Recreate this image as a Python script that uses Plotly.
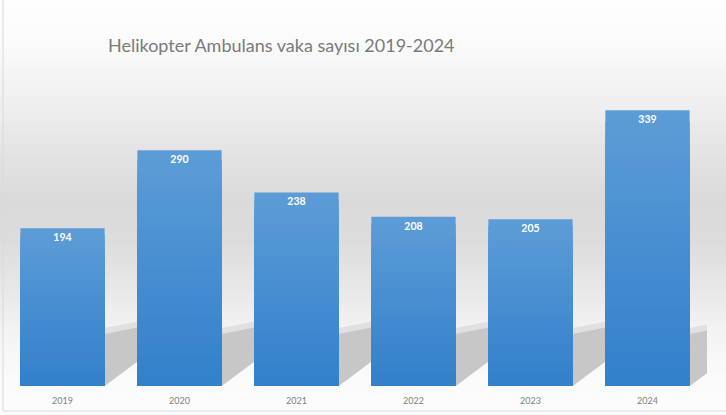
import plotly.graph_objects as go

years = ["2019", "2020", "2021", "2022", "2023", "2024"]
cases = [194, 290, 238, 208, 205, 339]

W, H = 726, 415
L, R, T, B = 4, 20, 81, 29
plot_w = W - L - R
plot_h = H - T - B
slot = plot_w / len(years)
half_bar = 0.36 * slot


def xp(px):
    return (px - L) / plot_w


def yp(py):
    return (H - B - py) / plot_h


def mix(c1, c2, t):
    return "rgb(%d,%d,%d)" % tuple(round(a + (b - a) * t) for a, b in zip(c1, c2))


fig = go.Figure()

# gradient bars: stacked overlays, light at the top, darker at the bottom
top_col = (92, 156, 214)
bot_col = (49, 127, 203)
n_layers = 24
for k in range(n_layers):
    frac = 1 - k / n_layers
    fig.add_trace(go.Bar(
        x=years,
        y=[v * frac for v in cases],
        marker=dict(color=mix(bot_col, top_col, frac), line=dict(width=0)),
        hoverinfo="skip",
        showlegend=False,
    ))

# value labels on a transparent bar drawn last
fig.add_trace(go.Bar(
    x=years,
    y=cases,
    marker=dict(color="rgba(0,0,0,0)", line=dict(width=0)),
    text=[str(v) for v in cases],
    textposition="inside",
    insidetextanchor="end",
    textfont=dict(family="Lato", size=10.5, color="white", weight="bold"),
    hoverinfo="skip",
    showlegend=False,
))

# background: vertical grey gradient
stops = [(0, 254), (40, 251), (100, 240), (150, 228), (200, 218), (240, 220),
         (290, 232), (325, 242), (360, 248), (386, 251), (415, 252)]
shapes = []
step = 3
for py in range(0, H, step):
    for (y0, g0), (y1, g1) in zip(stops, stops[1:]):
        if y0 <= py + step / 2 <= y1:
            g = g0 + (g1 - g0) * (py + step / 2 - y0) / (y1 - y0)
            break
    g = round(g)
    shapes.append(dict(type="rect", xref="paper", yref="paper", layer="below",
                       x0=xp(0), x1=xp(W), y0=yp(py + step), y1=yp(py),
                       fillcolor="rgb(%d,%d,%d)" % (g, g, g), line=dict(width=0)))

# floor shadows to the right of each bar
for i in range(len(years)):
    right = L + (i + 0.5) * slot + half_bar
    far = min(right + slot - 2 * half_bar, L + plot_w + 1)
    w = far - right
    for top, col in [(328, "rgb(224,224,224)"), (334, "rgb(199,199,199)")]:
        pts = [(right, top), (far, top - 0.2 * w), (far, 386 - 0.75 * w), (right, 386)]
        path = "M " + " L ".join("%f,%f" % (xp(a), yp(b)) for a, b in pts) + " Z"
        shapes.append(dict(type="path", xref="paper", yref="paper", layer="below",
                           path=path, fillcolor=col, line=dict(width=0)))

# chart frame
shapes.append(dict(type="rect", xref="paper", yref="paper",
                   x0=xp(3), x1=xp(W + 5), y0=yp(411), y1=yp(-5),
                   line=dict(color="#d9d9d9", width=1)))

fig.update_layout(
    width=W, height=H,
    margin=dict(l=L, r=R, t=T, b=B),
    barmode="overlay",
    bargap=0.28,
    paper_bgcolor="white",
    plot_bgcolor="rgba(0,0,0,0)",
    shapes=shapes,
    title=dict(text="Helikopter Ambulans vaka sayısı 2019-2024",
               x=xp(108), xref="paper", xanchor="left",
               y=1 - 46 / H, yanchor="middle",
               font=dict(family="Lato", size=18, color="#7a7a7a")),
    xaxis=dict(showgrid=False, showline=False, ticks="", zeroline=False,
               ticklabelstandoff=8,
               tickfont=dict(family="Lato", size=9, color="#808080")),
    yaxis=dict(range=[0, 375], visible=False),
)

fig.write_html("out.html", config={"displayModeBar": False},
               post_script="document.body.style.margin='0';")
